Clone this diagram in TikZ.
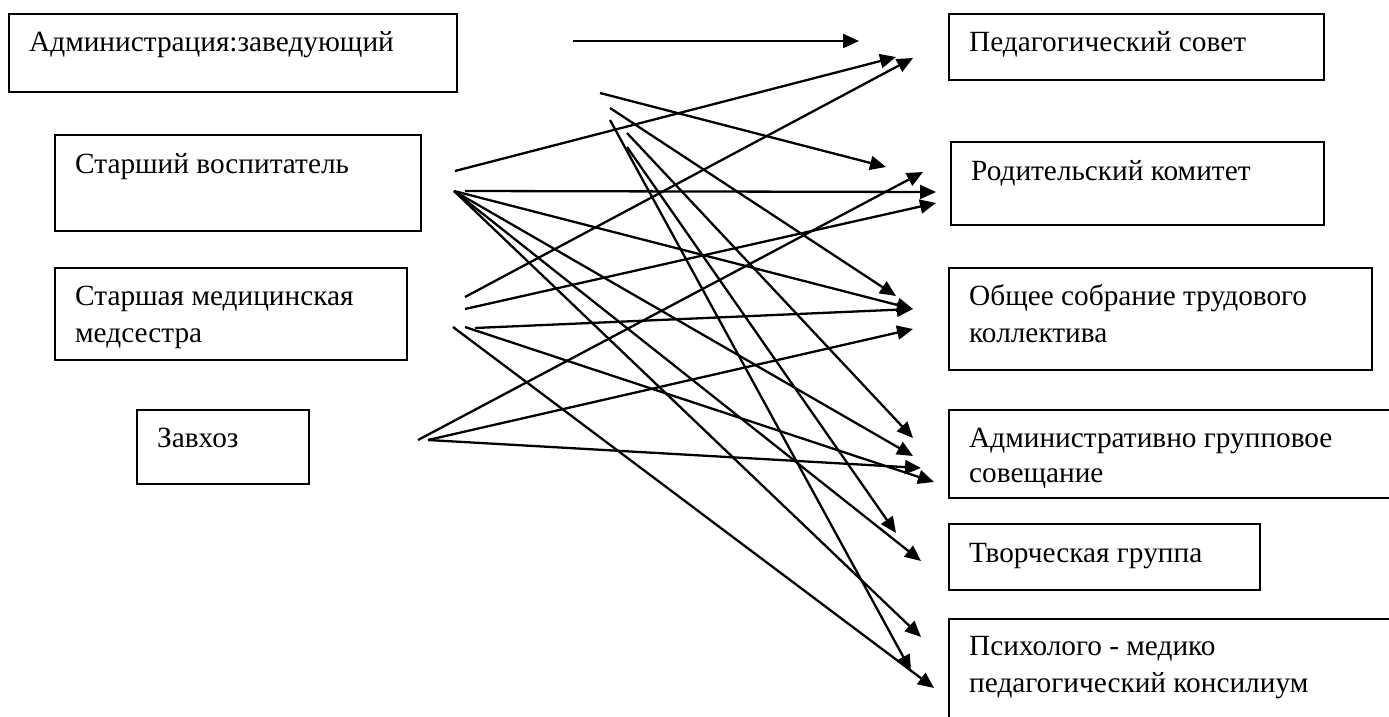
\documentclass[tikz,border=0pt]{standalone}
\usepackage{fontspec}
\setmainfont{Liberation Serif}
\usetikzlibrary{arrows.meta}
\begin{document}
\begin{tikzpicture}[x=1pt,y=-1pt,
  box/.style={draw, line width=1.8pt, inner sep=0pt, anchor=north west},
  lbl/.style={anchor=base west, inner sep=0pt, font=\rmfamily\fontsize{29.3}{36}\selectfont},
  conn/.style={line width=2.3pt, -{Triangle[length=16pt,width=14pt]}}]
\useasboundingbox (0,0) rectangle (1389,717);
\clip (0,0) rectangle (1389,717);
\fill[white] (0,0) rectangle (1389,717);
% left boxes
\node[box, minimum width=448pt, minimum height=78pt] (adm) at (8,13) {};
\node[box, minimum width=366pt, minimum height=96pt] (sv) at (54,134) {};
\node[box, minimum width=352pt, minimum height=92pt] (sm) at (54,267) {};
\node[box, minimum width=172pt, minimum height=74pt] (zh) at (136,409) {};
% right boxes
\node[box, minimum width=375pt, minimum height=66pt] (ps) at (948,13) {};
\node[box, minimum width=373pt, minimum height=83pt] (rk) at (950,141) {};
\node[box, minimum width=423pt, minimum height=102pt] (os) at (948,267) {};
\node[box, minimum width=460pt, minimum height=88pt] (ag) at (948,409) {};
\node[box, minimum width=311pt, minimum height=66pt] (tg) at (948,523) {};
\node[box, minimum width=460pt, minimum height=130pt] (pm) at (948,618) {};
% labels
\node[lbl] (admT) at (29,52) {Администрация:заведующий};
\node[lbl] (svT) at (75,173) {Старший воспитатель};
\node[lbl] (smT1) at (75,305) {Старшая медицинская};
\node[lbl] (smT2) at (75,342) {медсестра};
\node[lbl] (zhT) at (157,447) {Завхоз};
\node[lbl] (psT) at (969,52) {Педагогический совет};
\node[lbl] (rkT) at (971,180) {Родительский комитет};
\node[lbl] (osT1) at (969,305) {Общее собрание трудового};
\node[lbl] (osT2) at (969,342) {коллектива};
\node[lbl] (agT1) at (969,447) {Административно групповое};
\node[lbl] (agT2) at (969,482) {совещание};
\node[lbl] (tgT) at (969,562) {Творческая группа};
\node[lbl] (pmT1) at (969,655) {Психолого - медико};
\node[lbl] (pmT2) at (969,692) {педагогический консилиум};
% start points
\coordinate (a0) at (573,41);
\coordinate (svA) at (455,171);
\coordinate (svH) at (465,191);
\coordinate (svF) at (454,191);
\coordinate (smA) at (465,297);
\coordinate (smB) at (465,309);
\coordinate (smC) at (475,328);
\coordinate (smD) at (465,327);
\coordinate (smE) at (453,327);
\coordinate (zhA) at (418,440);
\coordinate (zhB) at (428,440);
\coordinate (f1) at (600,93);
\coordinate (f2) at (610,108);
\coordinate (f3) at (610,120);
\coordinate (f4) at (627,133);
\coordinate (f5) at (627,147);
% tips
\coordinate (t1) at (859,41);
\coordinate (t2) at (896,57);
\coordinate (t3) at (913,58);
\coordinate (t4) at (886,167);
\coordinate (t5) at (923,172);
\coordinate (t6) at (936,192);
\coordinate (t7) at (936,203);
\coordinate (t8) at (896,296);
\coordinate (t9) at (913,309);
\coordinate (t10) at (913,329);
\coordinate (t11) at (913,438);
\coordinate (t12) at (913,456);
\coordinate (t13) at (921,468);
\coordinate (t14) at (934,482);
\coordinate (t15) at (896,533);
\coordinate (t16) at (921,561);
\coordinate (t17) at (921,637);
\coordinate (t18) at (911,671);
\coordinate (t19) at (934,688);
% connectors
\draw[conn] (a0) -- (t1);
\draw[conn] (svA) -- (t2);
\draw[conn] (smA) -- (t3);
\draw[conn] (f1) -- (t4);
\draw[conn] (zhA) -- (t5);
\draw[conn] (svH) -- (t6);
\draw[conn] (smB) -- (t7);
\draw[conn] (f2) -- (t8);
\draw[conn] (svF) -- (t9);
\draw[conn] (smC) -- (t9);
\draw[conn] (zhB) -- (t10);
\draw[conn] (f4) -- (t11);
\draw[conn] (svF) -- (t12);
\draw[conn] (zhB) -- (t13);
\draw[conn] (smD) -- (t14);
\draw[conn] (f5) -- (t15);
\draw[conn] (svF) -- (t16);
\draw[conn] (svF) -- (t17);
\draw[conn] (f3) -- (t18);
\draw[conn] (smE) -- (t19);
\end{tikzpicture}
\end{document}
